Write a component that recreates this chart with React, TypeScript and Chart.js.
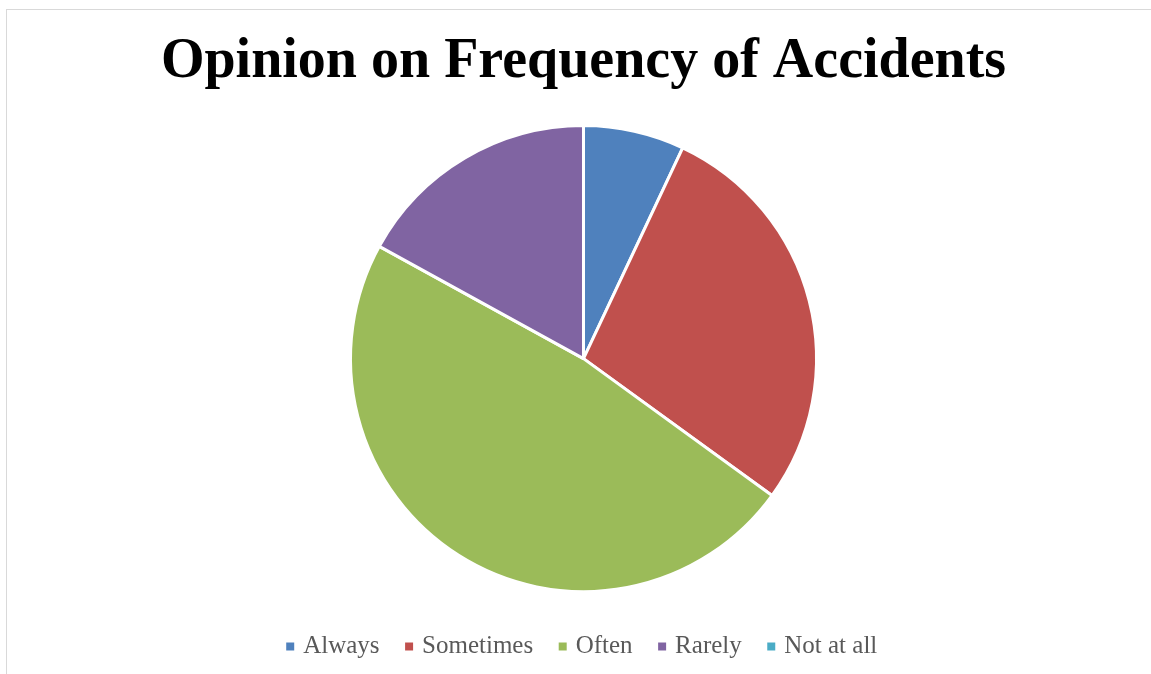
import React, { useEffect, useRef } from "react";
import { Chart, registerables } from "chart.js";

Chart.register(...registerables);

// Survey answers: how often accidents happen
const categories = ["Always", "Sometimes", "Often", "Rarely", "Not at all"];
const responses = [7, 28, 48, 17, 0];
const sliceColors = ["#4F81BD", "#C0504D", "#9BBB59", "#8064A2", "#4BACC6"];
const chartTitle = "Opinion on Frequency of Accidents";

const WIDTH = 1151;
const HEIGHT = 674;

export default function App() {
  const canvasRef = useRef<HTMLCanvasElement | null>(null);

  useEffect(() => {
    const canvas = canvasRef.current;
    if (!canvas) return;
    const chart = new Chart(canvas, {
      type: "pie",
      data: {
        labels: categories,
        datasets: [
          {
            data: responses,
            backgroundColor: sliceColors,
            borderColor: "#ffffff",
            borderWidth: 3,
          },
        ],
      },
      options: {
        responsive: false,
        maintainAspectRatio: false,
        animation: false,
        devicePixelRatio: 1,
        radius: 233,
        layout: { padding: { left: 16, right: 0, top: 0, bottom: 5 } },
        plugins: {
          tooltip: { enabled: false },
          title: {
            display: true,
            text: chartTitle,
            color: "#000000",
            font: { family: "'Liberation Serif', serif", size: 56, weight: "bold", lineHeight: 1.2 },
            padding: { top: 29, bottom: 16 },
          },
          legend: {
            display: true,
            position: "bottom",
            labels: {
              color: "#595959",
              font: { family: "'Liberation Serif', serif", size: 25 },
              usePointStyle: true,
              boxWidth: 1,
              boxHeight: 8,
              padding: 29,
              generateLabels: (c: any) =>
                Chart.overrides.pie.plugins.legend.labels
                  .generateLabels(c)
                  .map((item: any) => ({
                    ...item,
                    pointStyle: "rect",
                    lineWidth: 0,
                    strokeStyle: item.fillStyle,
                  })),
            },
          },
        },
      },
    } as any);
    return () => chart.destroy();
  }, []);

  return (
    <div
      style={{
        position: "fixed",
        left: 0,
        top: 0,
        width: WIDTH,
        height: HEIGHT,
        background: "#ffffff",
        overflow: "hidden",
      }}
    >
      <div
        style={{
          position: "absolute",
          left: 6,
          top: 9,
          width: WIDTH + 50,
          height: HEIGHT + 50,
          borderTop: "1px solid #d9d9d9",
          borderLeft: "1px solid #d9d9d9",
        }}
      />
      <canvas
        ref={canvasRef}
        width={WIDTH}
        height={HEIGHT}
        style={{ position: "absolute", left: 0, top: 0 }}
      />
    </div>
  );
}
